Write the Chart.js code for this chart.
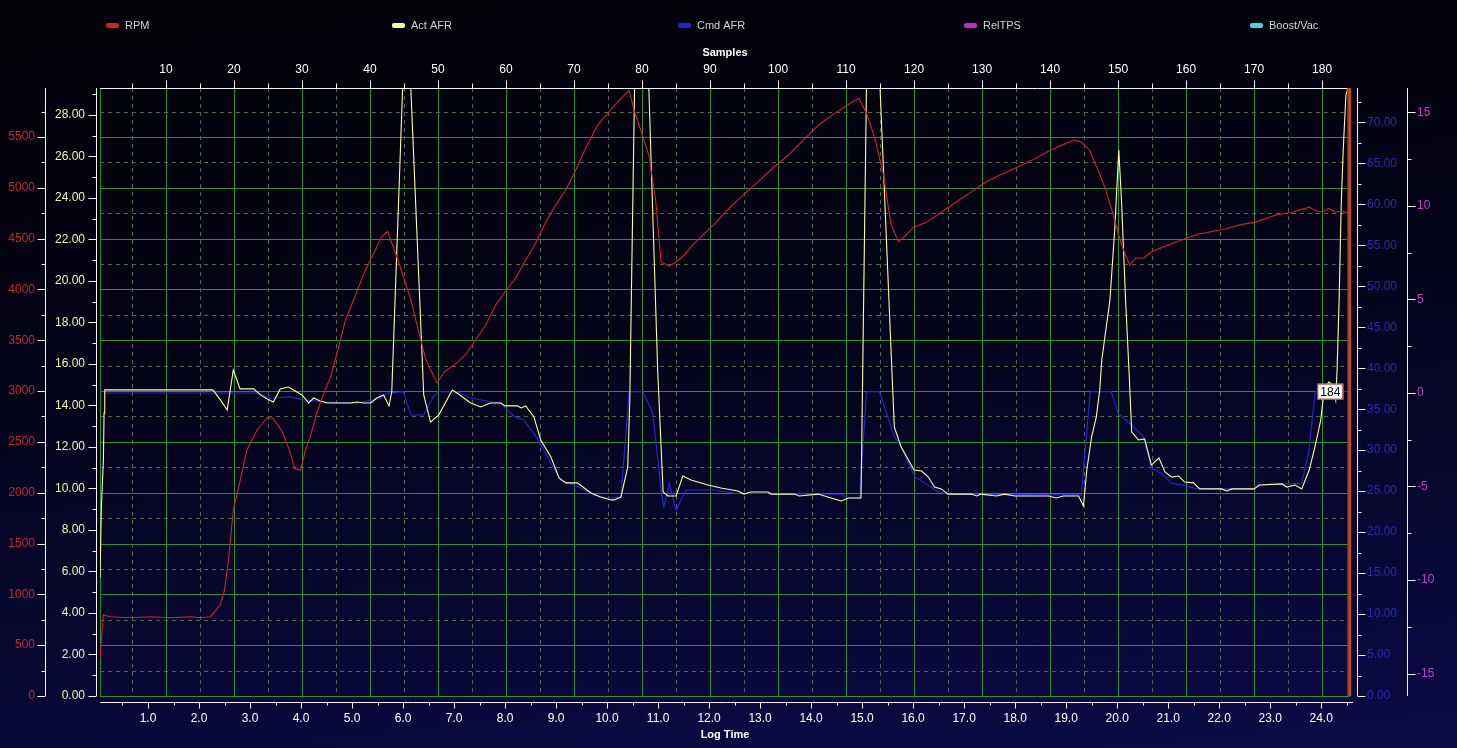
<!DOCTYPE html>
<html>
<head>
<meta charset="utf-8">
<title>Log chart</title>
<script src="https://cdn.jsdelivr.net/npm/chart.js@4.4.1/dist/chart.umd.min.js"></script>
<style>
  html, body { margin: 0; padding: 0; }
  body {
    width: 1457px; height: 748px; overflow: hidden;
    background: linear-gradient(174deg, #020207 0%, #04041a 45%, #0b0b48 100%);
  }
  canvas { display: block; }
</style>
</head>
<body>
<canvas id="logChart" width="1457" height="748"></canvas>
<script>
// ================= DATA =================
const seriesNames = ["RPM", "Act AFR", "Cmd AFR", "RelTPS", "Boost/Vac"];
const seriesColors = ["#d42028", "#ffff8c", "#2222dd", "#c828c8", "#40d8e0"];

// RPM trace: sample index / rpm
const rpmSamples = [0.3, 0.8, 1.8, 4.7, 7.7, 10.6, 13.6, 15.0, 16.5, 17.2, 18.0, 18.6, 19.2, 19.9, 20.7, 21.9, 23.4, 24.9, 25.8, 27.1,
  28.3, 28.9, 29.8, 30.5, 31.2, 32.2, 33.2, 34.2, 34.9, 36.4, 37.9, 39.3, 40.8, 41.7, 42.6, 44.2, 46.0, 47.1, 48.2, 48.9,
  49.9, 50.9, 52.8, 54.1, 55.5, 57.0, 58.5, 59.9, 61.4, 62.9, 64.4, 65.8, 67.3, 68.8, 70.3, 71.7, 73.5, 75.4, 76.9, 78.1,
  78.8, 79.8, 81.0, 82.0, 82.8, 84.0, 85.0, 86.2, 87.5, 89.0, 90.9, 92.8, 94.9, 97.1, 99.3, 101.5, 103.7, 106.0, 108.5, 110.8,
  111.9, 113.1, 114.3, 115.5, 116.6, 117.7, 118.9, 119.9, 121.8, 124.0, 126.2, 128.4, 130.6, 132.8, 135.1, 137.3, 139.5, 141.7, 143.6, 144.6,
  145.8, 147.0, 148.2, 149.3, 150.5, 151.7, 152.6, 153.8, 154.9, 157.1, 159.4, 161.6, 163.8, 166.0, 168.2, 170.1, 173.1, 175.6, 178.1, 178.9,
  180.0, 181.0, 181.9, 182.9, 184.0];
const rpmValues = [380, 800, 780, 770, 780, 770, 780, 770, 780, 830, 900, 1040, 1340, 1830, 2060, 2420, 2620, 2740, 2730, 2600,
  2390, 2240, 2220, 2420, 2550, 2790, 2980, 3140, 3310, 3700, 3950, 4190, 4390, 4520, 4570, 4270, 3900, 3600, 3310, 3210,
  3080, 3190, 3280, 3360, 3500, 3650, 3850, 3980, 4110, 4290, 4460, 4660, 4830, 4980, 5180, 5390, 5620, 5770, 5880, 5960,
  5770, 5570, 5320, 4880, 4270, 4230, 4270, 4340, 4440, 4540, 4660, 4800, 4930, 5060, 5200, 5320, 5470, 5620, 5740, 5840,
  5880, 5720, 5470, 5130, 4640, 4470, 4540, 4610, 4660, 4760, 4860, 4960, 5060, 5130, 5200, 5270, 5350, 5420, 5470, 5450,
  5370, 5180, 4980, 4730, 4440, 4240, 4310, 4310, 4370, 4430, 4490, 4540, 4570, 4600, 4640, 4660, 4730, 4760, 4810, 4780,
  4760, 4800, 4760, 4770, 4750];

// Actual AFR trace (29.3 = pinned at top of range)
const actSamples = [0.3, 0.5, 0.8, 0.9, 1.0, 16.9, 18.0, 19.0, 19.9, 20.9, 22.9, 23.9, 24.9, 25.8, 26.8, 28.0, 29.0, 30.0, 31.0, 31.7,
  32.7, 33.7, 37.1, 38.1, 39.1, 40.1, 41.0, 42.0, 42.8, 43.2, 44.8, 46.0, 47.9, 48.9, 50.1, 52.1, 52.8, 54.8, 56.3, 57.7,
  59.2, 59.9, 61.7, 62.2, 62.9, 64.1, 65.1, 66.6, 67.8, 68.8, 70.5, 71.3, 72.5, 73.9, 75.4, 75.9, 76.9, 77.9, 78.2, 78.9,
  81.0, 82.3, 83.1, 83.8, 85.0, 86.0, 87.2, 89.7, 91.6, 94.1, 95.0, 96.0, 98.5, 99.0, 102.4, 103.1, 105.9, 107.8, 109.3, 110.3,
  111.9, 112.2, 113.0, 115.0, 116.8, 117.1, 118.1, 120.0, 121.1, 122.1, 123.0, 124.0, 125.0, 128.4, 129.2, 129.9, 132.1, 133.3, 134.8, 139.8,
  140.9, 142.0, 144.2, 144.9, 145.4, 146.1, 146.8, 147.3, 147.6, 148.8, 149.5, 150.1, 150.5, 151.1, 151.6, 152.0, 153.0, 153.9, 154.9, 156.0,
  156.9, 157.9, 158.9, 159.8, 161.1, 162.0, 165.2, 166.0, 166.7, 170.0, 170.8, 174.1, 174.8, 176.0, 177.0, 178.1, 178.9, 179.8, 180.3, 181.0,
  181.6, 182.0, 182.2, 182.5, 182.8, 183.1, 183.5, 183.8];
const actValues = [5.69, 9.11, 11.37, 13.64, 14.75, 14.75, 14.27, 13.78, 15.71, 14.8, 14.8, 14.51, 14.31, 14.17, 14.8, 14.89, 14.7, 14.51, 14.12, 14.36,
  14.22, 14.12, 14.12, 14.17, 14.12, 14.12, 14.36, 14.51, 13.98, 14.65, 29.3, 29.3, 14.51, 13.2, 13.54, 14.75, 14.6, 14.12, 13.93, 14.12,
  14.12, 13.98, 13.98, 13.88, 13.98, 13.45, 12.34, 11.52, 10.51, 10.27, 10.27, 10.07, 9.78, 9.59, 9.45, 9.45, 9.59, 11.04, 14.27, 29.3,
  29.3, 15.71, 9.83, 9.64, 9.64, 10.6, 10.41, 10.17, 10.02, 9.88, 9.73, 9.83, 9.83, 9.73, 9.73, 9.64, 9.73, 9.54, 9.4, 9.54,
  9.54, 9.54, 29.3, 29.3, 15.23, 12.96, 12.0, 10.89, 10.84, 10.55, 10.07, 9.98, 9.73, 9.73, 9.64, 9.73, 9.64, 9.73, 9.64, 9.64,
  9.54, 9.64, 9.64, 9.16, 10.89, 12.48, 13.45, 14.75, 16.19, 19.08, 22.46, 26.31, 23.9, 19.08, 15.71, 12.72, 12.34, 12.39, 11.13, 11.47,
  10.8, 10.55, 10.6, 10.31, 10.27, 9.98, 9.98, 9.88, 9.98, 9.98, 10.17, 10.22, 10.07, 10.17, 9.98, 10.89, 11.95, 13.3, 14.75, 15.13,
  14.99, 14.27, 15.71, 19.08, 23.57, 26.31, 28.96, 29.3];

// Commanded AFR trace
const cmdSamples = [0.9, 23.4, 25.3, 28.3, 30.2, 33.1, 38.1, 41.5, 42.5, 44.9, 46.0, 47.9, 49.3, 50.1, 52.8, 54.8, 57.7, 59.2, 61.2, 62.6,
  64.4, 65.8, 68.0, 70.0, 71.5, 72.9, 74.9, 76.9, 78.1, 80.1, 81.6, 82.8, 83.2, 84.0, 85.0, 86.5, 90.6, 93.6, 109.3, 110.3,
  112.0, 113.0, 114.9, 117.1, 118.1, 120.1, 121.6, 123.5, 125.0, 144.6, 145.9, 149.0, 150.0, 152.0, 153.7, 154.9, 156.4, 157.9, 159.4, 161.3,
  169.7, 170.4, 174.1, 177.0, 178.0, 179.0, 183.8];
const cmdValues = [14.6, 14.6, 14.35, 14.42, 14.27, 14.18, 14.11, 14.35, 14.59, 14.67, 13.54, 13.54, 14.42, 14.67, 14.67, 14.36, 14.18, 14.12, 13.46, 13.3,
  12.5, 11.7, 10.41, 10.17, 9.93, 9.69, 9.53, 9.6, 14.67, 14.67, 13.62, 9.93, 9.12, 10.25, 8.96, 9.93, 9.93, 9.77, 9.72, 9.53,
  9.53, 14.67, 14.67, 12.5, 12.01, 10.57, 10.25, 9.85, 9.72, 9.69, 14.67, 14.67, 13.62, 13.06, 12.5, 10.97, 10.73, 10.25, 10.17, 10.01,
  9.96, 10.17, 10.22, 10.25, 11.7, 14.67, 14.67];

// axis ranges
const sampleMin = 0.3, sampleMax = 184.1;
const secPerSample = 0.13333, timeOffset = 0.019;
const rpmMax = 5982, afrMax = 29.3, cmdAxisMax = 74.2, tpsMin = -16.2, tpsMax = 16.3;
const cursorSample = 184;

// ================= STYLE =================
const FONT = "'Liberation Sans Narrow', 'Liberation Sans', Arial, sans-serif";
const GRID_MAJOR = "#2f8f2f";
const GRID_MINOR = "#4f6a4f";
const AXIS_WHITE = "#f4f4f4";

function pts(xs, ys) {
  return xs.map((x, i) => ({ x, y: ys[i] }));
}

function isStep(v, step) {
  return Math.abs(v / step - Math.round(v / step)) < 1e-6;
}

// regular ticks on every multiple of step inside the scale range
function stepTicks(step) {
  return scale => {
    const out = [];
    for (let k = Math.ceil(scale.min / step - 1e-9); k * step <= scale.max + 1e-9; k++) {
      out.push({ value: +(k * step).toFixed(6) });
    }
    scale.ticks = out;
  };
}

// ================= FRAME PLUGIN =================
const frame = {
  id: "frame",
  beforeDatasetsDraw(chart) {
    const { ctx, chartArea: a, scales } = chart;
    ctx.save();
    ctx.lineWidth = 1;
    scales.yRpm.ticks.forEach(t => {
      const y = Math.round(scales.yRpm.getPixelForValue(t.value)) + 0.5;
      const major = isStep(t.value, 500);
      ctx.strokeStyle = major ? GRID_MAJOR : GRID_MINOR;
      ctx.setLineDash(major ? [] : [4, 4]);
      ctx.beginPath(); ctx.moveTo(a.left, y); ctx.lineTo(a.right, y); ctx.stroke();
    });
    scales.x.ticks.forEach(t => {
      const x = Math.round(scales.x.getPixelForValue(t.value)) + 0.5;
      const major = isStep(t.value, 10);
      ctx.strokeStyle = major ? GRID_MAJOR : GRID_MINOR;
      ctx.setLineDash(major ? [] : [4, 4]);
      ctx.beginPath(); ctx.moveTo(x, a.top); ctx.lineTo(x, a.bottom); ctx.stroke();
    });
    ctx.setLineDash([]);
    ctx.strokeStyle = GRID_MAJOR;
    ctx.beginPath();
    ctx.moveTo(a.left + 0.5, a.top); ctx.lineTo(a.left + 0.5, a.bottom);
    ctx.stroke();
    ctx.restore();
  },
  afterDatasetsDraw(chart) {
    const { ctx, chartArea: a, scales } = chart;
    ctx.save();
    ctx.strokeStyle = AXIS_WHITE;
    ctx.lineWidth = 1;
    ctx.beginPath();

    // vertical axes: line + ticks
    const vAxis = (scale, x, dir, step) => {
      ctx.moveTo(x + 0.5, a.top); ctx.lineTo(x + 0.5, a.bottom);
      scale.ticks.forEach(t => {
        const y = Math.round(scale.getPixelForValue(t.value)) + 0.5;
        const len = isStep(t.value, step) ? 8 : 4;
        ctx.moveTo(x + 0.5, y); ctx.lineTo(x + 0.5 + dir * len, y);
      });
    };
    vAxis(scales.yRpm, scales.yRpm.right, -1, 500);
    vAxis(scales.yAfr, scales.yAfr.right - 4, -1, 2);
    vAxis(scales.yCmd, scales.yCmd.left + 7, 1, 5);
    vAxis(scales.yTps, scales.yTps.left + 7, 1, 5);

    // top sample axis
    const top = Math.round(a.top) + 0.5;
    ctx.moveTo(a.left, top); ctx.lineTo(a.right, top);
    scales.x.ticks.forEach(t => {
      const x = Math.round(scales.x.getPixelForValue(t.value)) + 0.5;
      const len = isStep(t.value, 10) ? 8 : 5;
      ctx.moveTo(x, top); ctx.lineTo(x, top - len);
    });

    // bottom time axis
    const bot = Math.round(a.bottom) + 6.5;
    ctx.moveTo(a.left, bot); ctx.lineTo(a.right + 3, bot);
    scales.xTime.ticks.forEach(t => {
      const x = Math.round(scales.xTime.getPixelForValue(t.value)) + 0.5;
      const len = isStep(t.value, 1) ? 6 : 3;
      ctx.moveTo(x, bot); ctx.lineTo(x, bot + len);
    });
    ctx.stroke();

    // cursor line at the last sample
    const cx = scales.x.getPixelForValue(cursorSample);
    ctx.strokeStyle = "#a8381a";
    ctx.lineWidth = 4;
    ctx.beginPath(); ctx.moveTo(cx, a.top); ctx.lineTo(cx, a.bottom); ctx.stroke();
    ctx.strokeStyle = "#d0602c";
    ctx.lineWidth = 1;
    ctx.beginPath(); ctx.moveTo(cx + 0.5, a.top); ctx.lineTo(cx + 0.5, a.bottom); ctx.stroke();

    // sample marker box
    const by = scales.yAfr.getPixelForValue(cmdValues[cmdValues.length - 1]);
    ctx.font = "12px " + FONT;
    const label = String(cursorSample);
    const w = ctx.measureText(label).width + 6;
    const bx = cx - 6 - w;
    ctx.fillStyle = "#ffffff";
    ctx.fillRect(bx, by - 8, w, 16);
    ctx.strokeStyle = "#9a3a20";
    ctx.strokeRect(bx + 0.5, by - 7.5, w - 1, 15);
    ctx.fillStyle = "#000000";
    ctx.textAlign = "center";
    ctx.textBaseline = "middle";
    ctx.fillText(label, bx + w / 2, by + 1);

    // legend row
    ctx.font = "11px " + FONT;
    ctx.textAlign = "left";
    seriesNames.forEach((name, i) => {
      const lx = 106 + i * 286;
      ctx.fillStyle = seriesColors[i];
      ctx.beginPath();
      ctx.roundRect(lx, 23, 13, 5, 2);
      ctx.fill();
      ctx.fillStyle = "#d4d4d4";
      ctx.fillText(name, lx + 19, 26);
    });
    ctx.restore();
  }
};

// ================= CHART =================
const labelFont = { family: FONT, size: 12 };
const titleFont = { family: "'Liberation Sans', Arial, sans-serif", size: 11, weight: "bold" };
const hidden = { display: false, drawTicks: false };

new Chart(document.getElementById("logChart"), {
  type: "line",
  data: {
    datasets: [
      { label: seriesNames[0], data: pts(rpmSamples, rpmValues), borderColor: "#d42028", yAxisID: "yRpm" },
      { label: seriesNames[1], data: pts(actSamples, actValues), borderColor: "#ffff96", yAxisID: "yAfr" },
      { label: seriesNames[2], data: pts(cmdSamples, cmdValues), borderColor: "#2626e6", yAxisID: "yAfr" },
      { label: seriesNames[3], data: [], borderColor: seriesColors[3], yAxisID: "yTps" },
      { label: seriesNames[4], data: [], borderColor: seriesColors[4], yAxisID: "yCmd" }
    ]
  },
  options: {
    responsive: false,
    animation: false,
    devicePixelRatio: 1,
    events: [],
    layout: { padding: { top: 40, left: 0, right: 0, bottom: 0 } },
    elements: {
      line: { borderWidth: 1.1, tension: 0 },
      point: { radius: 0 }
    },
    plugins: { legend: { display: false }, tooltip: { enabled: false } },
    scales: {
      x: {
        type: "linear", axis: "x", position: "top",
        min: sampleMin, max: sampleMax,
        grid: hidden, border: { display: false },
        afterBuildTicks: stepTicks(5),
        ticks: {
          autoSkip: false, maxRotation: 0,
          color: "#ffffff", font: labelFont, padding: 11,
          callback: v => isStep(v, 10) ? String(Math.round(v)) : ""
        },
        title: { display: true, text: "Samples", color: "#ffffff", font: titleFont, padding: { top: 6, bottom: 0 } },
        afterFit: s => { s.height = 48; }
      },
      xTime: {
        type: "linear", axis: "x", position: "bottom",
        min: timeOffset + sampleMin * secPerSample, max: timeOffset + sampleMax * secPerSample,
        grid: hidden, border: { display: false },
        afterBuildTicks: stepTicks(0.5),
        ticks: {
          autoSkip: false, maxRotation: 0,
          color: "#ffffff", font: labelFont, padding: 15,
          callback: v => isStep(v, 1) ? v.toFixed(1) : ""
        },
        title: { display: true, text: "Log Time", color: "#ffffff", font: titleFont, padding: { top: 0, bottom: 6 } },
        afterFit: s => { s.height = 52; }
      },
      yRpm: {
        type: "linear", axis: "y", position: "left", weight: 1,
        min: 0, max: rpmMax,
        grid: hidden, border: { display: false },
        afterBuildTicks: stepTicks(250),
        ticks: {
          autoSkip: false,
          color: "#c8242c", font: labelFont, padding: 10,
          callback: v => isStep(v, 500) ? String(Math.round(v)) : ""
        },
        afterFit: s => { s.width = 45; }
      },
      yAfr: {
        type: "linear", axis: "y", position: "left", weight: 0,
        min: 0, max: afrMax,
        grid: hidden, border: { display: false },
        afterBuildTicks: stepTicks(1),
        ticks: {
          autoSkip: false,
          color: "#f2f2b0", font: labelFont, padding: 15,
          callback: v => isStep(v, 2) ? v.toFixed(2) : ""
        },
        afterFit: s => { s.width = 55; }
      },
      yCmd: {
        type: "linear", axis: "y", position: "right", weight: 0,
        min: 0, max: cmdAxisMax,
        grid: hidden, border: { display: false },
        afterBuildTicks: stepTicks(2.5),
        ticks: {
          autoSkip: false,
          color: "#2a2ab4", font: labelFont, padding: 17,
          callback: v => isStep(v, 5) ? v.toFixed(2) : ""
        },
        afterFit: s => { s.width = 50; }
      },
      yTps: {
        type: "linear", axis: "y", position: "right", weight: 1,
        min: tpsMin, max: tpsMax,
        grid: hidden, border: { display: false },
        afterBuildTicks: stepTicks(2.5),
        ticks: {
          autoSkip: false,
          color: "#c040c4", font: labelFont, padding: 17,
          callback: v => isStep(v, 5) ? String(Math.round(v)) : ""
        },
        afterFit: s => { s.width = 57; }
      }
    }
  },
  plugins: [frame]
});
</script>
</body>
</html>
